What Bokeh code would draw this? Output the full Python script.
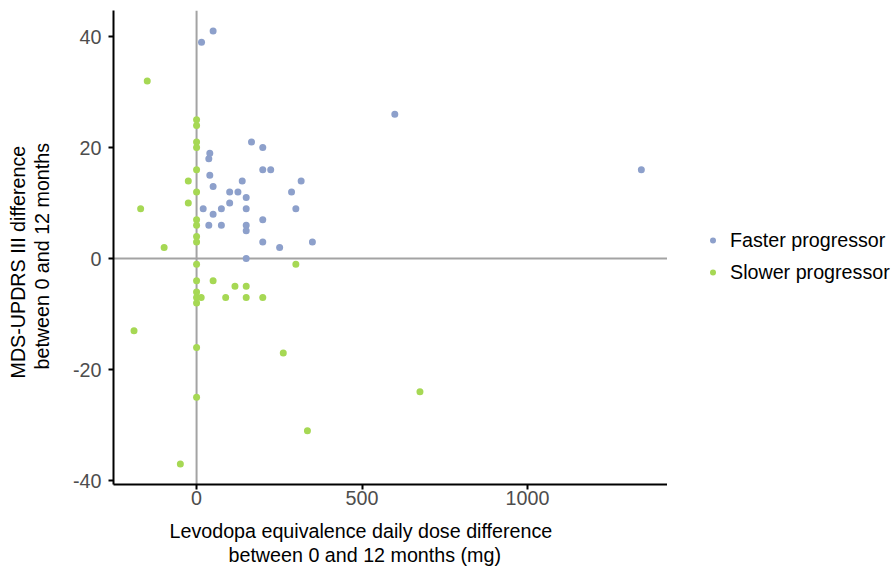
from bokeh.plotting import figure
from bokeh.layouts import row
from bokeh.models import Span, Legend, LegendItem, FixedTicker, Range1d, Title
from bokeh.embed import file_html
from bokeh.resources import INLINE

# ---- data ----
faster_x = [50, 15, 599, 166, 200, 40, 37, 200, 224, 1344, 40, 138, 316, 50, 100, 125, 287,
            150, 100, 20, 75, 150, 300, 50, 200, 37, 75, 150, 150, 200, 350, 251, 150]
faster_y = [41, 39, 26, 21, 20, 19, 18, 16, 16, 16, 15, 14, 14, 13, 12, 12, 12,
            11, 10, 9, 9, 9, 9, 8, 7, 6, 6, 6, 5, 3, 3, 2, 0]
slower_x = [-149, 0, 0, 0, 0, 0, -25, 0, -25, -169, 0, 0, 0, 0, -98, 0, 300, 0, 50, 116,
            150, 0, 0, 14, 88, 150, 200, 0, -189, 0, 262, 0, 675, 335, -49]
slower_y = [32, 25, 24, 21, 20, 16, 14, 12, 10, 9, 7, 6, 4, 3, 2, -1, -1, -4, -4, -5,
            -5, -6, -7, -7, -7, -7, -7, -8, -13, -16, -17, -25, -24, -31, -37]
group_names = ["Faster progressor", "Slower progressor"]
group_colors = ["#8DA0CB", "#A6D854"]
x_ticks = [0, 500, 1000]
y_ticks = [-40, -20, 0, 20, 40]
x_title = ["Levodopa equivalence daily dose difference", "between 0 and 12 months (mg)"]
y_title = ["MDS-UPDRS III difference", "between 0 and 12 months"]

FONT = "Liberation Sans"
FS = "19.7px"

p = figure(width=667, height=568, output_backend="svg", toolbar_location=None,
           x_range=Range1d(-251, 1423), y_range=Range1d(-40.7, 44.7),
           min_border_left=113, min_border_right=0, min_border_top=10,
           min_border_bottom=84)
p.outline_line_color = None
p.xgrid.grid_line_color = None
p.ygrid.grid_line_color = None
p.background_fill_color = "white"
p.border_fill_color = "white"

for ax, ticks in ((p.xaxis[0], x_ticks), (p.yaxis[0], y_ticks)):
    ax.ticker = FixedTicker(ticks=ticks)
    ax.major_label_overrides = {t: str(t) for t in ticks}
    ax.minor_tick_line_color = None
    ax.major_tick_in = 0
    ax.major_tick_out = 5
    ax.major_tick_line_width = 2
    ax.major_tick_line_color = "black"
    ax.axis_line_width = 2
    ax.axis_line_color = "black"
    ax.major_label_text_font = FONT
    ax.major_label_text_font_size = FS
    ax.major_label_text_color = "#4D4D4D"
    # invisible spacer label to push the titles outward
    ax.axis_label = " "
    ax.axis_label_text_font_size = "1px"
    ax.axis_label_text_alpha = 0
p.xaxis[0].major_label_standoff = 1
p.xaxis[0].axis_label_standoff = 6
p.yaxis[0].major_label_standoff = 7
p.yaxis[0].axis_label_standoff = 13


def title(txt, off):
    return Title(text=txt, align="left", offset=off, vertical_align="bottom", standoff=0,
                 text_font=FONT, text_font_size=FS, text_font_style="normal",
                 text_color="black")


# x-axis title: first line nearest the axis
p.add_layout(title(x_title[0], 56), "below")
p.add_layout(title(x_title[1], 115), "below")
# y-axis title: second line nearest the axis
p.add_layout(title(y_title[1], 115), "left")
p.add_layout(title(y_title[0], 106), "left")

p.add_layout(Span(location=0, dimension="height", line_color="#A3A3A3", line_width=2, level="underlay"))
p.add_layout(Span(location=0, dimension="width", line_color="#A3A3A3", line_width=2, level="underlay"))

p.scatter(faster_x, faster_y, size=7, fill_color=group_colors[0], line_color=None)
p.scatter(slower_x, slower_y, size=7, fill_color=group_colors[1], line_color=None)

# legend panel (separate canvas to the right of the plot)
q = figure(width=226, height=568, output_backend="svg", toolbar_location=None,
           x_range=Range1d(5000, 6000), y_range=Range1d(5000, 6000),
           x_axis_location=None, y_axis_location=None,
           min_border_left=0, min_border_right=0, min_border_top=0, min_border_bottom=0)
q.outline_line_color = None
q.xgrid.grid_line_color = None
q.ygrid.grid_line_color = None
lr1 = q.scatter(faster_x, faster_y, size=7, fill_color=group_colors[0], line_color=None)
lr2 = q.scatter(slower_x, slower_y, size=7, fill_color=group_colors[1], line_color=None)
legend = Legend(items=[LegendItem(label=group_names[0], renderers=[lr1]),
                       LegendItem(label=group_names[1], renderers=[lr2])],
                location=(38, 196), padding=0, margin=0, spacing=0,
                glyph_width=15, glyph_height=32, label_height=32, label_standoff=10,
                label_text_font=FONT, label_text_font_size=FS, label_text_color="black",
                border_line_color=None, background_fill_alpha=0)
q.add_layout(legend)

layout = row(p, q, spacing=0)
open("out.html", "w").write(file_html(layout, INLINE))
